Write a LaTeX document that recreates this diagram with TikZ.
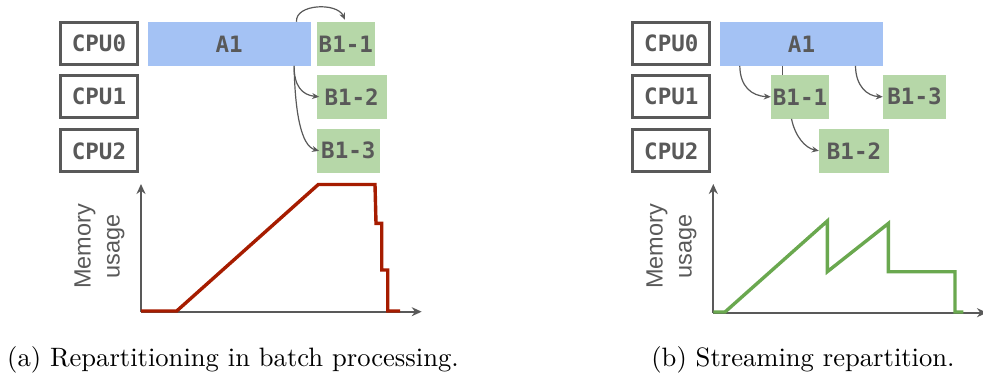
\documentclass[tikz,border=0pt]{standalone}
\usepackage{fontspec}
\newfontfamily\cpufont{DejaVu Sans Mono}
\newfontfamily\labfont{Liberation Sans}
\newfontfamily\capfont{lmroman10-regular}[Extension=.otf]
\usetikzlibrary{arrows.meta}
\definecolor{dgray}{HTML}{595959}
\definecolor{ablue}{HTML}{A4C2F4}
\definecolor{bgreen}{HTML}{B6D7A8}
\definecolor{memred}{HTML}{A61C00}
\definecolor{memgreen}{HTML}{6AA84F}
\tikzset{
  cpubox/.style={draw=dgray, line width=3pt, fill=white, minimum width=77pt, minimum height=42pt, inner sep=0pt, text=dgray, font=\cpufont\bfseries\fontsize{22.5}{24}\selectfont},
  abox/.style={fill=ablue, minimum height=43.7pt, inner sep=0pt, text=dgray, font=\cpufont\bfseries\fontsize{22.5}{24}\selectfont},
  bbox/.style={fill=bgreen, minimum height=43.7pt, inner sep=0pt, text=dgray, font=\cpufont\bfseries\fontsize{22.5}{24}\selectfont},
  conn/.style={draw=dgray, line width=1.2pt, -{Stealth[length=7pt,width=6pt]}},
  plainconn/.style={draw=dgray, line width=1.2pt},
  axis/.style={draw=dgray, line width=2pt, -{Stealth[length=10pt,width=9pt]}},
  memlab/.style={rotate=90, align=center, text=dgray, inner sep=0pt, font=\labfont\fontsize{23.5}{29}\selectfont},
  caption/.style={inner sep=0pt, anchor=base, font=\capfont\fontsize{26.6}{30}\selectfont},
  curve/.style={line width=3.4pt, line join=miter}
}
\begin{document}
\begin{tikzpicture}[x=1pt,y=-1pt]
\useasboundingbox (0,0) rectangle (983,377);
% ---------- left panel ----------
\node[cpubox] (lc0) at (99,43.5) {CPU0};
\node[cpubox] (lc1) at (99,96.5) {CPU1};
\node[cpubox] (lc2) at (99,151) {CPU2};
\node[abox, minimum width=163pt] (la1) at (229.2,43.8) {A1};
\node[bbox, minimum width=58.3pt] (lb11) at (345.8,43.8) {B1-1};
\node[bbox, minimum width=70pt] (lb12) at (351.7,96.8) {B1-2};
\node[bbox, minimum width=63.3pt] (lb13) at (348.3,150.8) {B1-3};
\draw[conn] ([xshift=149pt]la1.north west) .. controls (295,4) and (337,2) .. ([xshift=-0.8pt,yshift=2pt]lb11.north);
\draw[conn] ([xshift=146.6pt]la1.south west) .. controls (294,86) and (302,95) .. ([xshift=2.6pt]lb12.west);
\draw[conn] ([xshift=146.6pt]la1.south west) .. controls (295,112) and (301,146) .. ([xshift=2.6pt]lb13.west);
% memory graph left
\coordinate (lo) at (141,311.7);
\draw[axis] (lo) -- (141,184);
\draw[axis] (lo) -- (421.7,311.7);
\node[memlab] (lml) at (99.5,246.5) {Memory\\usage};
\draw[curve, draw=memred] (141,311) -- (176.7,311) -- (318.3,184.5) -- (375,184.5) -- (376,223.3) -- (381.7,223.3) -- (381.7,270) -- (387.7,270) -- (387.7,311) -- (400,311);
\node[caption] (capa) at (233,366.7) {(a) Repartitioning in batch processing.};
% ---------- right panel ----------
\node[cpubox] (rc0) at (671.3,43.5) {CPU0};
\node[cpubox] (rc1) at (671.3,96.5) {CPU1};
\node[cpubox] (rc2) at (671.3,151) {CPU2};
\node[abox, minimum width=163pt] (ra1) at (801.5,43.8) {A1};
\node[bbox, minimum width=58pt] (rb11) at (800,96.8) {B1-1};
\node[bbox, minimum width=63pt] (rb13) at (914.5,96.8) {B1-3};
\node[bbox, minimum width=70pt] (rb12) at (854,150.8) {B1-2};
\draw[conn] ([xshift=20pt]ra1.south west) .. controls (740,86) and (751,96) .. (rb11.west);
\draw[conn] ([xshift=135.7pt]ra1.south west) .. controls (855.7,86) and (867,96) .. (rb13.west);
\draw[plainconn] ([xshift=62.7pt]ra1.south west) -- ([xshift=11.7pt]rb11.north west);
\draw[conn] ([xshift=20.7pt]rb11.south west) .. controls (795,136) and (805,148) .. (rb12.west);
% memory graph right
\coordinate (ro) at (713.3,312.7);
\draw[axis] (ro) -- (713.3,184);
\draw[axis] (ro) -- (987,312.7);
\node[memlab] (rml) at (671.5,246.5) {Memory\\usage};
\draw[curve, draw=memgreen] (713.3,312) -- (725,312) -- (827.3,221) -- (827.3,271.7) -- (888.3,223.5) -- (888.3,271.7) -- (955,271.7) -- (955,312) -- (963.3,312);
\node[caption] (capb) at (803,366.7) {(b) Streaming repartition.};
\end{tikzpicture}
\end{document}
